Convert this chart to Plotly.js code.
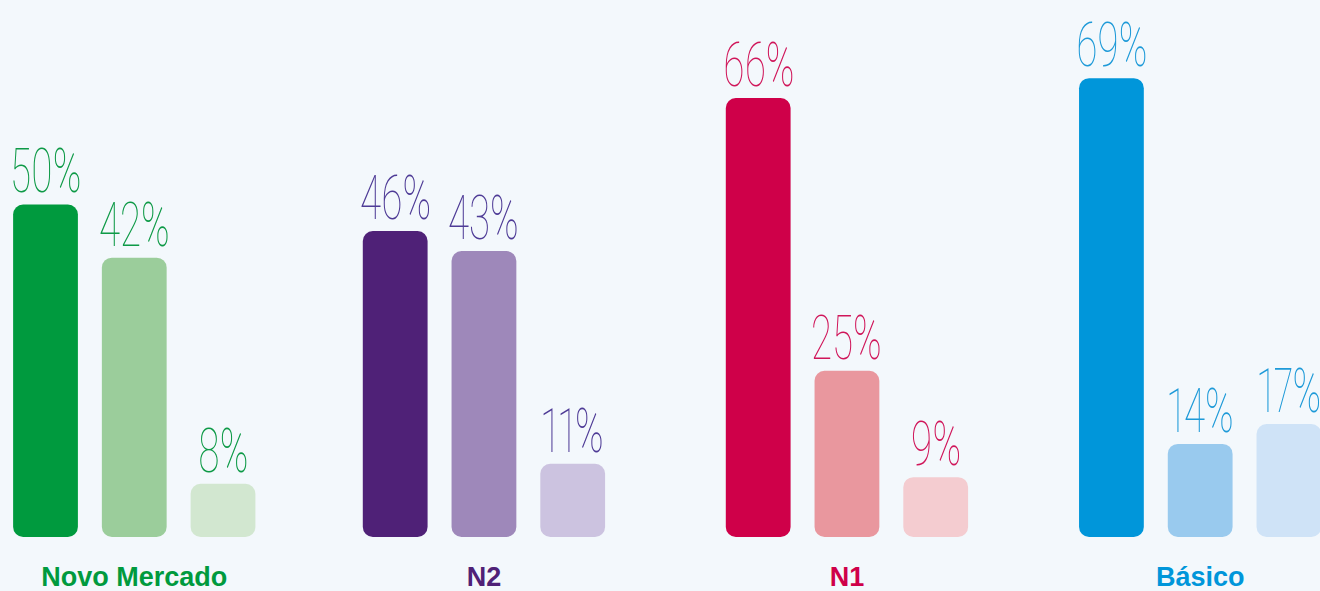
<!DOCTYPE html>
<html>
<head>
<meta charset="utf-8">
<script src="https://cdn.plot.ly/plotly-3.0.1.min.js"></script>
<style>
  html, body { margin: 0; padding: 0; background: #F3F8FC; }
  #chart { width: 1320px; height: 591px; }
  .annotation-text {
    font-variant-numeric: proportional-nums;
    font-feature-settings: "pnum" 1;
    transform-box: fill-box; transform-origin: 50% 100%; transform: scaleX(0.63);
  }
</style>
</head>
<body>
<div id="chart"></div>
<script>
// ---- data ----
const groups = ['Novo Mercado', 'N2', 'N1', 'Básico'];
const seriesA = [50, 46, 66, 69];
const seriesB = [42, 43, 25, 14];
const seriesC = [8, 11, 9, 17];

// ---- styles / layout constants ----
const darkColors  = ['#009A3E', '#4F2177', '#CF0049', '#0096DA'];
const midColors   = ['#9BCD9B', '#9E88BA', '#E9979E', '#99CAEE'];
const lightColors = ['#D2E7D0', '#CCC3E0', '#F4CCD0', '#CFE3F7'];
const labelColors = ['#0E9A47', '#4E3B96', '#D0165A', '#1E9AD8'];
const groupCenters = [1.0, 4.94, 9.03, 13.01];

const series = [seriesA, seriesB, seriesC];
const seriesColors = [darkColors, midColors, lightColors];

const xs = [], ys = [], cols = [], labCols = [];
groups.forEach((g, gi) => {
  series.forEach((s, si) => {
    xs.push(groupCenters[gi] + (si - 1));
    ys.push(s[gi]);
    cols.push(seriesColors[si][gi]);
    labCols.push(labelColors[gi]);
  });
});

const Y_MAX = 80.75;
const barW = 0.73;

// an explicit base makes Plotly round all four corners of each bar
const bars = {
  type: 'bar', x: xs, y: ys, base: xs.map(() => 0),
  width: barW, marker: { color: cols, cornerradius: 10, line: { width: 0 } },
  hoverinfo: 'skip'
};

const annotations = xs.map((x, i) => ({
  x: x, y: ys[i], xref: 'x', yref: 'y', text: ys[i] + '%',
  showarrow: false, yanchor: 'bottom', xanchor: 'center', yshift: -5,
  font: { family: 'Roboto, "DejaVu Sans", sans-serif', size: 61, weight: 100, color: labCols[i] }
}));

const layout = {
  width: 1320, height: 591,
  margin: { l: 0, r: 0, t: 0, b: 54 },
  paper_bgcolor: '#F3F8FC', plot_bgcolor: '#F3F8FC',
  showlegend: false,
  xaxis: {
    range: [-0.5127, 14.36], showgrid: false, zeroline: false, showline: false,
    tickvals: groupCenters,
    ticktext: groups.map((g, gi) => '<span style="color:' + darkColors[gi] + '"><b>' + g + '</b></span>'),
    tickfont: { family: '"Liberation Sans", Arial, sans-serif', size: 27 },
    ticks: '', ticklabelstandoff: 21, fixedrange: true
  },
  yaxis: { range: [0, Y_MAX], visible: false, fixedrange: true },
  annotations: annotations
};

Plotly.newPlot('chart', [bars], layout, { displayModeBar: false, staticPlot: true });
</script>
</body>
</html>
